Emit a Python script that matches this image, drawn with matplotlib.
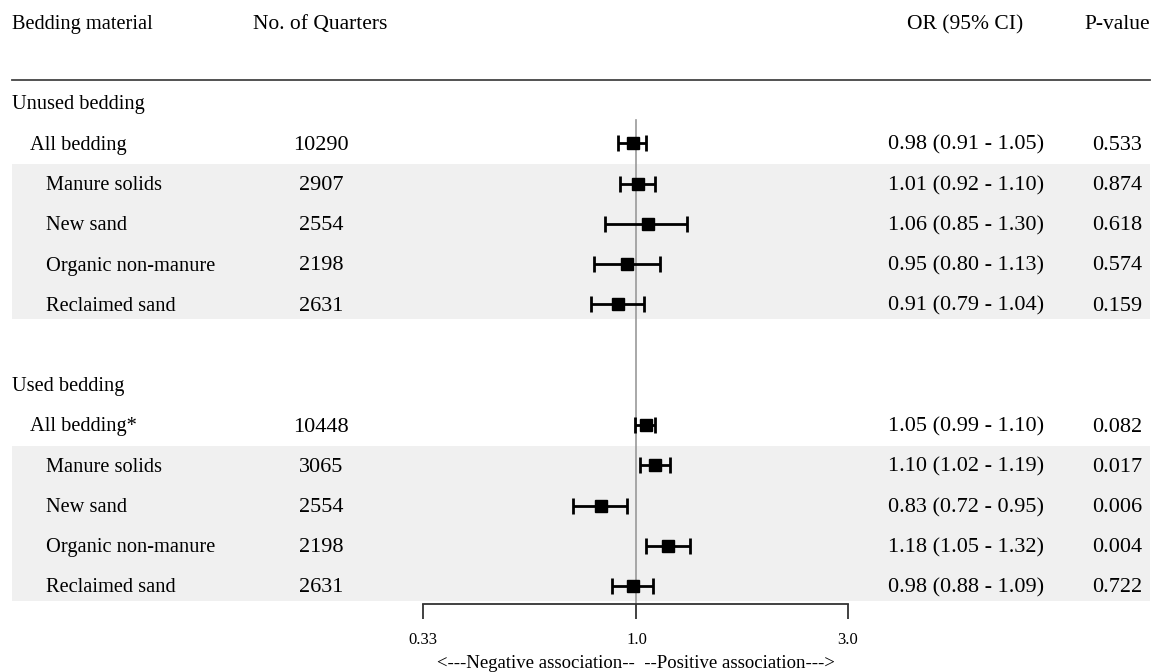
import matplotlib.pyplot as plt
import matplotlib.transforms as mtransforms
from matplotlib.patches import Rectangle

plt.rcParams['font.family'] = ['Liberation Serif', 'DejaVu Serif']

# rows of the table (blank string = spacer row)
labels = ['Unused bedding', 'All bedding', 'Manure solids', 'New sand', 'Organic non-manure', 'Reclaimed sand',
          '',
          'Used bedding', 'All bedding*', 'Manure solids', 'New sand', 'Organic non-manure', 'Reclaimed sand']
levels = [0, 1, 2, 2, 2, 2, 0, 0, 1, 2, 2, 2, 2]
n_quarters = ['', '10290', '2907', '2554', '2198', '2631', '', '', '10448', '3065', '2554', '2198', '2631']
odds = [None, 0.98, 1.01, 1.06, 0.95, 0.91, None, None, 1.05, 1.10, 0.83, 1.18, 0.98]
ci_low = [None, 0.91, 0.92, 0.85, 0.80, 0.79, None, None, 0.99, 1.02, 0.72, 1.05, 0.88]
ci_high = [None, 1.05, 1.10, 1.30, 1.13, 1.04, None, None, 1.10, 1.19, 0.95, 1.32, 1.09]
p_values = ['', '0.533', '0.874', '0.618', '0.574', '0.159', '', '', '0.082', '0.017', '0.006', '0.004', '0.722']
x_ticks = [0.33, 1.0, 3.0]
x_ticklabels = ['0.33', '1.0', '3.0']

W, H = 1162, 672
fig = plt.figure(figsize=(W / 100, H / 100), dpi=100)

# forest axes: spans px 423..848 horizontally, 0..604 vertically
ax = fig.add_axes([423 / W, (H - 604) / H, 425 / W, 604 / H])
ax.set_xscale('log')
ax.set_xlim(0.33, 3.0)
ax.set_ylim(604, 0)
ax.patch.set_visible(False)
for s in ['top', 'left', 'right']:
    ax.spines[s].set_visible(False)
ax.spines['bottom'].set_linewidth(1.3)
ax.spines['bottom'].set_color('#333333')
ax.set_yticks([])
ax.set_xticks(x_ticks)
ax.set_xticklabels(x_ticklabels, fontsize=12)
ax.xaxis.set_minor_locator(plt.NullLocator())
ax.tick_params(axis='x', length=11, width=1.3, color='#333333', pad=9)
ax.set_xlabel('<---Negative association--  --Positive association--->', fontsize=13.5, labelpad=5)

fs_lab = 14.7
fs_num = 16
y0, dy = 103, 40.25
row_y = [y0 + i * dy for i in range(len(labels))]
base = 6.5  # baseline offset below row centre (px)

# x in figure pixels, y in data
tr = mtransforms.blended_transform_factory(
    mtransforms.Affine2D().scale(1 / W, 1) + fig.transFigure, ax.transData)

# shaded bands behind sub-rows
for i, lev in enumerate(levels):
    if lev == 2 and (i == 0 or levels[i - 1] != 2):
        j = i
        while j + 1 < len(levels) and levels[j + 1] == 2:
            j += 1
        top = row_y[i] - dy / 2 + 0.5
        bot = row_y[j] + dy / 2 - 5
        ax.add_patch(Rectangle((12, top), 1138, bot - top, transform=tr,
                               facecolor='#f0f0f0', edgecolor='none', clip_on=False, zorder=0))

# headers
hy = 1 - 29 / H
fig.text(12 / W, hy, 'Bedding material', fontsize=fs_lab, va='baseline', ha='left')
fig.text(253 / W, hy, 'No. of Quarters', fontsize=15.5, va='baseline', ha='left')
fig.text(965 / W, hy, 'OR (95% CI)', fontsize=15.5, va='baseline', ha='center')
fig.text(1117 / W, hy, 'P-value', fontsize=15.5, va='baseline', ha='center')
fig.add_artist(plt.Line2D([12 / W, 1150 / W], [1 - 80 / H, 1 - 80 / H], color='#444444', lw=1.3))

# reference line at OR = 1
ax.plot([1.0, 1.0], [120, 604], color='#999999', lw=1.2, zorder=1)

indent = {0: 12, 1: 30, 2: 46}
for i, lab in enumerate(labels):
    y = row_y[i] + base
    if lab:
        ax.text(indent[levels[i]], y, lab, transform=tr, fontsize=fs_lab, va='baseline', ha='left')
    if n_quarters[i]:
        ax.text(321, y, n_quarters[i], transform=tr, fontsize=fs_num, va='baseline', ha='center')
    if odds[i] is not None:
        ax.text(966, y, '%.2f (%.2f - %.2f)' % (odds[i], ci_low[i], ci_high[i]), transform=tr,
                fontsize=fs_num, va='baseline', ha='center')
        ax.text(1117, y, p_values[i], transform=tr, fontsize=fs_num, va='baseline', ha='center')
        ax.errorbar([odds[i]], [row_y[i]], xerr=[[odds[i] - ci_low[i]], [ci_high[i] - odds[i]]],
                    fmt='s', color='black', ms=9, capsize=6, capthick=2, elinewidth=2, zorder=3)

fig.savefig('out.png', dpi=100)
